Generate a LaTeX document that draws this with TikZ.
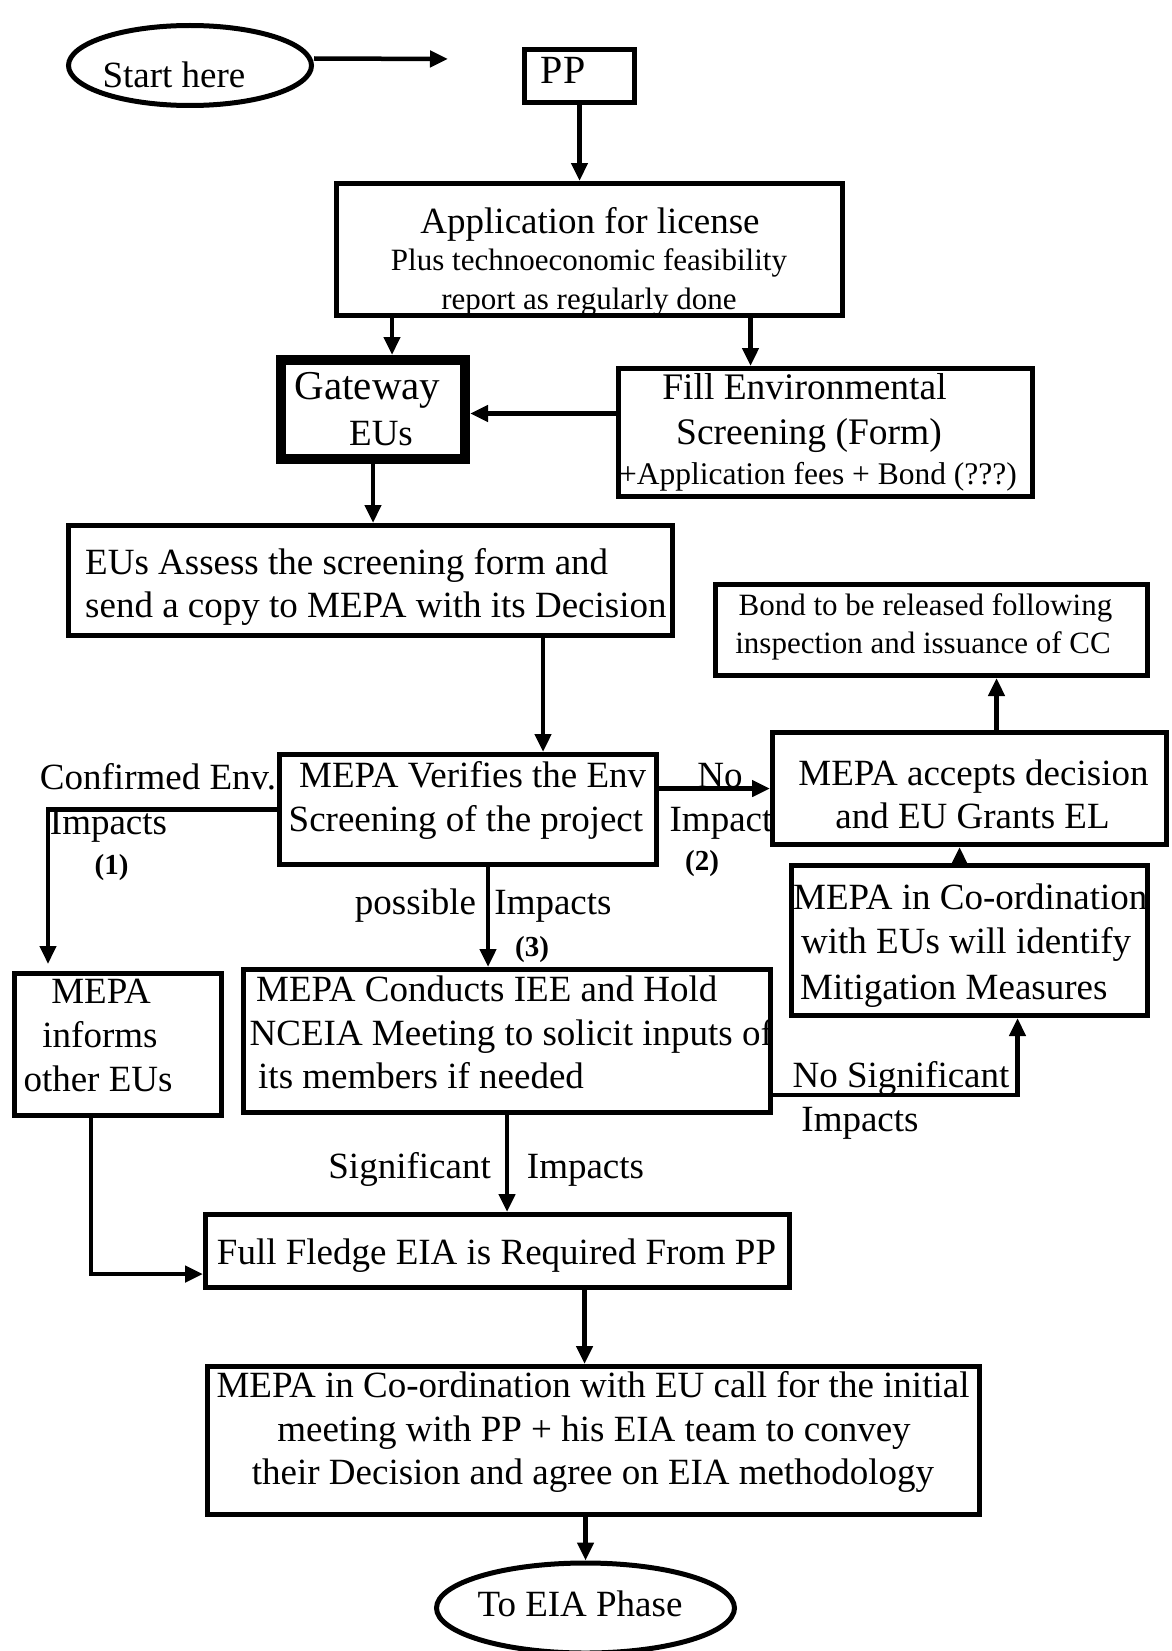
\documentclass[tikz,border=0pt]{standalone}
\usepackage{fontspec}
\setmainfont{Liberation Serif}
\usetikzlibrary{arrows.meta,shapes.geometric}
\begin{document}
\begin{tikzpicture}[x=1pt,y=-1pt,
  box/.style={draw, line width=5pt, rectangle, inner sep=0pt},
  oval/.style={draw, line width=5pt, ellipse, inner sep=0pt},
  arr/.style={line width=4.5pt, -{Triangle[length=18pt,width=16pt]}},
  tx/.style={inner sep=0pt, yshift=-3pt, text height=25pt, text depth=7pt, font=\fontsize{37}{44}\selectfont},
  sx/.style={inner sep=0pt, yshift=-3pt, text height=21pt, text depth=6pt, font=\fontsize{31}{38}\selectfont},
  bx/.style={inner sep=0pt, yshift=-3pt, text height=20pt, text depth=6pt, font=\bfseries\fontsize{29}{34}\selectfont}]
\useasboundingbox (0,0) rectangle (1172,1651);

% boxes
\node[oval, minimum width=243pt, minimum height=80pt] (start) at (190,65.5) {};
\coordinate (se) at (448,59);
\node[box, minimum width=110pt, minimum height=53pt] (pp) at (579.5,76) {};
\node[box, minimum width=506pt, minimum height=132pt] (app) at (589.5,249.5) {};
\node[box, line width=10pt, minimum width=184pt, minimum height=99pt] (gate) at (373,409.5) {};
\node[box, minimum width=414pt, minimum height=128pt] (fill) at (825.5,432.5) {};
\node[box, minimum width=604pt, minimum height=110pt] (eus) at (370.5,580.5) {};
\node[box, minimum width=432pt, minimum height=91pt] (bond) at (931.5,630) {};
\node[box, minimum width=377pt, minimum height=110pt] (verify) at (468,809.5) {};
\node[box, minimum width=394pt, minimum height=112pt] (accept) at (969.5,788.5) {};
\node[box, minimum width=356pt, minimum height=150pt] (coord) at (969.5,940.5) {};
\node[box, minimum width=207pt, minimum height=142pt] (informs) at (118,1044.5) {};
\node[box, minimum width=527pt, minimum height=143pt] (conduct) at (507,1041) {};
\node[box, minimum width=584pt, minimum height=73pt] (full) at (497.5,1251) {};
\node[box, minimum width=772pt, minimum height=148pt] (final) at (593.5,1440.5) {};
\node[oval, minimum width=298pt, minimum height=90pt] (endE) at (585.5,1608) {};

% texts
\node[tx] (tStart) at (174,76) {Start here};
\node[tx, font=\fontsize{40}{46}\selectfont] (tPP) at (563,72) {PP};
\node[tx] (tApp1) at (590,221) {Application for license};
\node[sx] (tApp2) at (589,260) {Plus technoeconomic feasibility};
\node[sx] (tApp3) at (589,299) {report as regularly done};
\node[tx, font=\fontsize{41}{48}\selectfont] (tGate1) at (367.5,387.5) {Gateway};
\node[tx] (tGate2) at (381,433) {EUs};
\node[tx, font=\fontsize{37.5}{44}\selectfont] (tFill1) at (804.5,387.5) {Fill Environmental};
\node[tx, font=\fontsize{37.5}{44}\selectfont] (tFill2) at (809,432) {Screening (Form)};
\node[sx, font=\fontsize{31.5}{38}\selectfont] (tFill3) at (818,474) {+Application fees + Bond (???)};
\node[tx, anchor=west] (tEus1) at (85,562) {EUs Assess the screening form and};
\node[tx, anchor=west] (tEus2) at (85,605.5) {send a copy to MEPA with its Decision};
\node[sx] (tBond1) at (925.5,604.5) {Bond to be released following};
\node[sx] (tBond2) at (923,643) {inspection and issuance of CC};
\node[tx, anchor=west] (tVer1) at (299,775) {MEPA Verifies the Env};
\node[tx, anchor=west] (tVer2) at (288.5,819) {Screening of the project};
\node[tx] (tAcc1) at (973.5,773) {MEPA accepts decision};
\node[tx] (tAcc2) at (972.5,816) {and EU Grants EL};
\node[tx, anchor=west] (tCo1) at (793,897) {MEPA in Co-ordination};
\node[tx, anchor=west] (tCo2) at (801,941) {with EUs will identify};
\node[tx, anchor=west] (tCo3) at (800,987) {Mitigation Measures};
\node[tx] (tInf1) at (101,991) {MEPA};
\node[tx] (tInf2) at (100,1035) {informs};
\node[tx] (tInf3) at (98,1079) {other EUs};
\node[tx, anchor=west] (tCon1) at (256,989) {MEPA Conducts IEE and Hold};
\node[tx, anchor=west] (tCon2) at (249.5,1033) {NCEIA Meeting to solicit inputs of};
\node[tx, anchor=west] (tCon3) at (258,1076) {its members if needed};
\node[tx] (tFull) at (496.5,1252) {Full Fledge EIA is Required From PP};
\node[tx] (tFin1) at (593,1385) {MEPA in Co-ordination with EU call for the initial};
\node[tx] (tFin2) at (594,1429) {meeting with PP + his EIA team to convey};
\node[tx] (tFin3) at (593,1472) {their Decision and agree on EIA methodology};
\node[tx] (tEnd) at (580,1604) {To EIA Phase};

% labels
\node[tx] (lConf) at (158,777) {Confirmed Env.};
\node[tx] (lImp1) at (108.5,822) {Impacts};
\node[bx] (lN1) at (111.6,864.5) {(1)};
\node[tx] (lNo) at (720,775) {No};
\node[tx] (lImp2) at (721,819) {Impact};
\node[bx] (lN2) at (702,860) {(2)};
\node[tx] (lPos) at (415.5,902.5) {possible};
\node[tx] (lImp3) at (553,902.5) {Impacts};
\node[bx] (lN3) at (532,946.6) {(3)};
\node[tx] (lNoSig) at (901,1075) {No Significant};
\node[tx] (lImp4) at (860,1119) {Impacts};
\node[tx] (lSig) at (409.6,1166) {Significant};
\node[tx] (lImp5) at (585.5,1166) {Impacts};

% connectors
\draw[arr] (start.east) ++(0,-7) -- (se);
\draw[arr] (pp.south) -- (pp.south |- app.north);
\draw[arr] ([xshift=19pt]gate.north |- app.south) -- ([xshift=19pt]gate.north);
\draw[arr] ([xshift=-75pt]fill.north |- app.south) -- ([xshift=-75pt]fill.north);
\draw[arr] ([yshift=19pt]fill.west) -- ([yshift=19pt]fill.west -| gate.east);
\draw[arr] (gate.south) -- (gate.south |- eus.north);
\draw[arr] ([xshift=75pt]verify.north |- eus.south) -- ([xshift=75pt]verify.north);
\draw[arr] ([yshift=21pt]verify.east) -- ([yshift=21pt]verify.east -| accept.west);
\draw[arr] ([xshift=27pt]accept.north) -- ([xshift=27pt]accept.north |- bond.south);
\draw[arr, shorten >=7pt] (verify.west) -| ([xshift=-70pt]informs.north);
\draw[arr] ([xshift=20pt]verify.south) -- ([xshift=20pt]verify.south |- conduct.north);
\draw[arr] ([xshift=-10pt]coord.north) -- ([xshift=-10pt]coord.north |- accept.south);
\draw[arr] ([yshift=-54pt]conduct.east) -| ([xshift=48pt]coord.south);
\draw[arr] (conduct.south) -- (conduct.south |- full.north);
\draw[arr] ([xshift=-27pt]informs.south) |- ([yshift=-23pt]full.west);
\draw[arr] ([xshift=87pt]full.south) -- ([xshift=87pt]full.south |- final.north);
\draw[arr] (endE.north |- final.south) -- (endE.north);
\end{tikzpicture}
\end{document}
